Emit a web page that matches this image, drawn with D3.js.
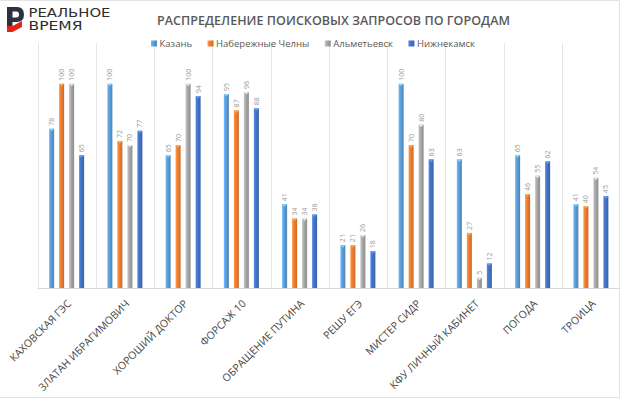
<!DOCTYPE html>
<html>
<head>
<meta charset="utf-8">
<script src="https://cdn.jsdelivr.net/npm/d3@7"></script>
<style>
  html, body { margin: 0; padding: 0; background: #fff; }
  svg { display: block; font-family: "Open Sans", "Noto Sans", sans-serif; }
  .grid line { stroke: #e6e6e6; stroke-width: 1; }
  .value { fill: #9a9a9a; font-size: 7px; }
  .cat { fill: #474747; font-size: 10.5px; }
  .legend text { fill: #595959; font-size: 9.5px; }
</style>
</head>
<body>
<div id="chart"></div>
<script>
// data
var categories = ['КАХОВСКАЯ ГЭС', 'ЗЛАТАН ИБРАГИМОВИЧ', 'ХОРОШИЙ ДОКТОР', 'ФОРСАЖ 10',
  'ОБРАЩЕНИЕ ПУТИНА', 'РЕШУ ЕГЭ', 'МИСТЕР СИДР', 'КФУ ЛИЧНЫЙ КАБИНЕТ', 'ПОГОДА', 'ТРОИЦА'];
var cities = ['Казань', 'Набережные Челны', 'Альметьевск', 'Нижнекамск'];
var kazan = [78, 100, 65, 95, 41, 21, 100, 63, 65, 41];
var chelny = [100, 72, 70, 87, 34, 21, 70, 27, 46, 40];
var almet = [100, 70, 100, 96, 34, 26, 80, 5, 55, 54];
var nizhnekamsk = [65, 77, 94, 88, 36, 18, 63, 12, 62, 45];
var series = [kazan, chelny, almet, nizhnekamsk];
var palette = ['#5b9bd5', '#ed7d31', '#a5a5a5', '#4472c4'];

var size = { w: 620, h: 398 };
var plot = { left: 37.5, right: 620, top: 43, bottom: 288 };

var svg = d3.select('#chart').append('svg')
  .attr('width', size.w)
  .attr('height', size.h);

// gradients for the bevelled bars
var defs = svg.append('defs');
palette.forEach(function(c, i) {
  var g = defs.append('linearGradient')
    .attr('id', 'grad' + i)
    .attr('x1', 0).attr('x2', 1).attr('y1', 0).attr('y2', 0);
  g.append('stop').attr('offset', '0%').attr('stop-color', d3.color(c).brighter(0.5));
  g.append('stop').attr('offset', '45%').attr('stop-color', c);
  g.append('stop').attr('offset', '100%').attr('stop-color', d3.color(c).darker(0.45));
});

// frame
svg.append('path')
  .attr('d', 'M0,0.5H619.5V397.5H0')
  .attr('fill', 'none')
  .attr('stroke', '#e3e3e3');

// logo
var logo = svg.append('g').attr('class', 'logo');
logo.append('path')
  .attr('d', 'M7,7H17Q24,7 24,14.5Q24,22 17,22H12.5V26H7Z M12.5,11.5V17.5H16.5Q19,17.5 19,14.5Q19,11.5 16.5,11.5Z')
  .attr('fill', '#2d3142')
  .attr('fill-rule', 'evenodd');
logo.append('path')
  .attr('d', 'M7,26H12.5L22,21V27L12.5,32H7Z')
  .attr('fill', '#e2231a');
logo.append('text')
  .attr('x', 28.5).attr('y', 17)
  .attr('textLength', 82).attr('lengthAdjust', 'spacingAndGlyphs')
  .style('font-family', '"DejaVu Sans", sans-serif')
  .style('font-size', '11.5px')
  .attr('fill', '#2d2d2d')
  .text('РЕАЛЬНОЕ');
logo.append('text')
  .attr('x', 28.5).attr('y', 30)
  .attr('textLength', 54).attr('lengthAdjust', 'spacingAndGlyphs')
  .style('font-family', '"DejaVu Sans", sans-serif')
  .style('font-size', '11.5px')
  .attr('fill', '#2d2d2d')
  .text('ВРЕМЯ');

// title
svg.append('text')
  .attr('x', 333.5).attr('y', 24.5)
  .attr('text-anchor', 'middle')
  .attr('textLength', 353).attr('lengthAdjust', 'spacing')
  .style('font-size', '12.5px')
  .style('font-weight', 600)
  .attr('fill', '#595959')
  .text('РАСПРЕДЕЛЕНИЕ ПОИСКОВЫХ ЗАПРОСОВ ПО ГОРОДАМ');

// scales
var x0 = d3.scaleBand()
  .domain(categories)
  .range([plot.left, plot.right]);
var x1 = d3.scaleBand()
  .domain(d3.range(cities.length))
  .range([0, 35])
  .paddingInner(0.5);
var y = d3.scaleLinear()
  .domain([0, 120])
  .range([plot.bottom, plot.top]);
var off = (x0.bandwidth() - 35) / 2;

// vertical gridlines between categories
var bounds = categories.map(function(c) { return x0(c); }).concat([plot.right - 0.5]);
svg.append('g').attr('class', 'grid')
  .selectAll('line').data(bounds).enter().append('line')
  .attr('x1', function(d) { return Math.round(d) + 0.5; })
  .attr('x2', function(d) { return Math.round(d) + 0.5; })
  .attr('y1', plot.top)
  .attr('y2', plot.bottom);

// baseline
svg.append('line')
  .attr('x1', plot.left).attr('x2', plot.right)
  .attr('y1', plot.bottom + 0.5).attr('y2', plot.bottom + 0.5)
  .attr('stroke', '#d9d9d9');

// bars
var groups = svg.append('g').attr('class', 'bars')
  .selectAll('g').data(categories).enter().append('g')
  .attr('transform', function(d) { return 'translate(' + (x0(d) + off) + ',0)'; });

var cells = groups.selectAll('g').data(function(d, ci) {
  return series.map(function(s, si) { return { si: si, v: s[ci] }; });
}).enter().append('g');

cells.append('rect')
  .attr('x', function(d) { return x1(d.si); })
  .attr('y', function(d) { return y(d.v); })
  .attr('width', x1.bandwidth())
  .attr('height', function(d) { return y(0) - y(d.v); })
  .attr('fill', function(d) { return 'url(#grad' + d.si + ')'; });

// small light cap on the bar top
cells.append('path')
  .attr('d', function(d) {
    var bx = x1(d.si), by = y(d.v), bw = x1.bandwidth();
    return 'M' + bx + ',' + by + 'H' + (bx + bw) + 'L' + (bx + bw / 2) + ',' + (by + 2.5) + 'Z';
  })
  .attr('fill', function(d) { return d3.color(palette[d.si]).brighter(0.9); });

cells.append('text')
  .attr('class', 'value')
  .attr('transform', function(d) {
    return 'translate(' + (x1(d.si) + x1.bandwidth() / 2) + ',' + (y(d.v) - 3) + ') rotate(-90)';
  })
  .attr('dy', '0.35em')
  .text(function(d) { return d.v; });

// category labels
svg.append('g').selectAll('text').data(categories).enter().append('text')
  .attr('class', 'cat')
  .attr('text-anchor', 'end')
  .attr('transform', function(d) {
    return 'translate(' + (x0(d) + x0.bandwidth() / 2) + ',299) rotate(-45)';
  })
  .attr('dy', '0.72em')
  .text(function(d) { return d; });

// legend
var legend = svg.append('g').attr('class', 'legend');
var lx = 151;
cities.forEach(function(c, i) {
  var item = legend.append('g').attr('transform', 'translate(' + lx + ',0)');
  item.append('rect')
    .attr('x', 0).attr('y', 40.5)
    .attr('width', 6).attr('height', 6)
    .attr('fill', 'url(#grad' + i + ')');
  var t = item.append('text')
    .attr('x', 8.5).attr('y', 46.5)
    .text(c);
  lx += 8.5 + t.node().getComputedTextLength() + 15.5;
});
</script>
</body>
</html>
